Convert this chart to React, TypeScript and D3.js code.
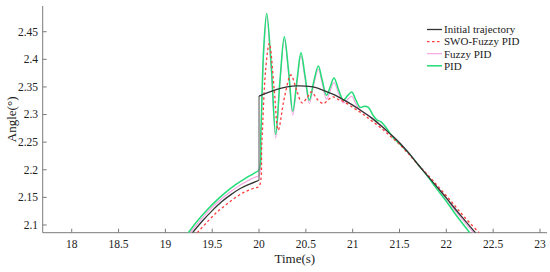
import React from "react";
import * as d3 from "d3";

const xTicks = [18, 18.5, 19, 19.5, 20, 20.5, 21, 21.5, 22, 22.5, 23];
const yTicks = [2.1, 2.15, 2.2, 2.25, 2.3, 2.35, 2.4, 2.45];

// Initial trajectory (before and after the step at t = 20)
const blackBefore: [number, number][] = [
  [19.29, 2.086], [19.4, 2.108], [19.5, 2.126], [19.6, 2.142], [19.7, 2.155],
  [19.8, 2.166], [19.9, 2.174], [20.0, 2.181],
];
const blackAfter: [number, number][] = [
  [20.0, 2.3335], [20.1, 2.34], [20.2, 2.346], [20.3, 2.35], [20.4, 2.352],
  [20.5, 2.3515], [20.6, 2.349], [20.7, 2.343], [20.8, 2.336], [20.9, 2.327],
  [21.0, 2.317], [21.1, 2.306], [21.2, 2.294], [21.3, 2.28], [21.4, 2.265],
  [21.5, 2.249], [21.6, 2.23], [21.7, 2.209], [21.8, 2.189], [21.9, 2.169],
  [22.0, 2.149], [22.1, 2.128], [22.2, 2.108], [22.31, 2.086],
];

const pid: [number, number][] = [
  [19.245, 2.086], [19.35, 2.109], [19.45, 2.128], [19.55, 2.145], [19.65, 2.16],
  [19.75, 2.173], [19.85, 2.184], [19.95, 2.194], [20.0, 2.2],
  [20.02, 2.27], [20.05, 2.42], [20.082, 2.483], [20.13, 2.39], [20.178, 2.264],
  [20.225, 2.365], [20.27, 2.441], [20.315, 2.38], [20.36, 2.306], [20.405, 2.362],
  [20.448, 2.412], [20.49, 2.372], [20.537, 2.326], [20.585, 2.36], [20.633, 2.388],
  [20.675, 2.362], [20.72, 2.335], [20.76, 2.35], [20.8, 2.366], [20.85, 2.345],
  [20.9, 2.326], [20.945, 2.334], [20.99, 2.341], [21.035, 2.326], [21.08, 2.313],
  [21.125, 2.315], [21.167, 2.313], [21.22, 2.298], [21.26, 2.29], [21.3, 2.287],
  [21.35, 2.278], [21.43, 2.259], [21.5, 2.247], [21.6, 2.23], [21.7, 2.209],
  [21.8, 2.188], [21.9, 2.165], [22.0, 2.143], [22.1, 2.119], [22.25, 2.086],
];

const fuzzyPid: [number, number][] = [
  [19.265, 2.086], [19.37, 2.108], [19.47, 2.127], [19.57, 2.143], [19.67, 2.157],
  [19.77, 2.169], [19.87, 2.179], [19.95, 2.186], [20.0, 2.19],
  [20.02, 2.26], [20.05, 2.41], [20.082, 2.478], [20.13, 2.38], [20.178, 2.257],
  [20.225, 2.36], [20.27, 2.436], [20.315, 2.375], [20.36, 2.299], [20.405, 2.356],
  [20.448, 2.406], [20.49, 2.366], [20.537, 2.32], [20.585, 2.354], [20.633, 2.382],
  [20.675, 2.356], [20.72, 2.328], [20.76, 2.343], [20.8, 2.358], [20.85, 2.338],
  [20.9, 2.321], [20.945, 2.327], [20.99, 2.333], [21.035, 2.319], [21.08, 2.308],
  [21.167, 2.299], [21.3, 2.281], [21.4, 2.265], [21.5, 2.249], [21.6, 2.23],
  [21.7, 2.209], [21.8, 2.189], [21.9, 2.168], [22.0, 2.147], [22.1, 2.125],
  [22.2, 2.104], [22.29, 2.086],
];

const swoFuzzyPid: [number, number][] = [
  [19.34, 2.086], [19.45, 2.106], [19.55, 2.123], [19.65, 2.137], [19.75, 2.15],
  [19.85, 2.16], [19.95, 2.167], [20.0, 2.17],
  [20.03, 2.25], [20.07, 2.38], [20.11, 2.429], [20.16, 2.35], [20.205, 2.272],
  [20.27, 2.33], [20.34, 2.3716], [20.4, 2.345], [20.46, 2.321], [20.51, 2.33],
  [20.56, 2.341], [20.625, 2.327], [20.69, 2.32], [20.74, 2.327], [20.79, 2.332],
  [20.85, 2.327], [20.9, 2.324], [21.0, 2.313], [21.1, 2.302], [21.2, 2.289],
  [21.3, 2.276], [21.4, 2.261], [21.5, 2.246], [21.6, 2.228], [21.7, 2.209],
  [21.8, 2.191], [21.9, 2.172], [22.0, 2.153], [22.1, 2.133], [22.2, 2.113],
  [22.35, 2.086],
];

const legendLabels = ["Initial trajectory", "SWO-Fuzzy PID", "Fuzzy PID", "PID"];

const W = 550;
const H = 272;
const left = 42.7;
const right = 547;
const top = 6;
const bottom = 232.7;

const COL_BLACK = "#333333";
const COL_RED = "#ff3b3b";
const COL_PINK = "#f59ee0";
const COL_GREEN = "#22dd77";
const AXIS = "#7a7a7a";
const FONT = "Liberation Serif, Times New Roman, serif";

export default function App() {
  const x = d3.scaleLinear().domain([17.69, 23.075]).range([left, right]);
  const y = d3.scaleLinear().domain([2.086, 2.4966]).range([bottom, top]);

  const line = d3
    .line<[number, number]>()
    .x((d) => x(d[0]))
    .y((d) => y(d[1]))
    .curve(d3.curveCatmullRom.alpha(0.5));
  const straight = d3
    .line<[number, number]>()
    .x((d) => x(d[0]))
    .y((d) => y(d[1]));

  const jump: [number, number][] = [
    blackBefore[blackBefore.length - 1],
    blackAfter[0],
  ];

  const legendStyles = [
    { color: COL_BLACK, dash: undefined, w: 1.3 },
    { color: COL_RED, dash: "2.5,2.5", w: 1.3 },
    { color: COL_PINK, dash: undefined, w: 1.1 },
    { color: COL_GREEN, dash: undefined, w: 1.5 },
  ];

  const txt = { fontFamily: FONT };

  return (
    <svg
      width={W}
      height={H}
      style={{ position: "absolute", left: 0, top: 0, background: "#fff", fontFamily: FONT }}
    >
      <defs>
        <clipPath id="plotclip">
          <rect x={left} y={top} width={right - left} height={bottom - top} />
        </clipPath>
      </defs>

      {/* axes */}
      <line x1={left} y1={top} x2={left} y2={bottom} stroke={AXIS} strokeWidth={1} />
      <line x1={left} y1={bottom} x2={right} y2={bottom} stroke={AXIS} strokeWidth={1} />
      {xTicks.map((t) => (
        <g key={"x" + t}>
          <line x1={x(t)} x2={x(t)} y1={bottom} y2={bottom - 4} stroke={AXIS} />
          <text x={x(t)} y={248} fontSize={11.5} textAnchor="middle" fill="#222" style={txt}>
            {String(t)}
          </text>
        </g>
      ))}
      {yTicks.map((t) => (
        <g key={"y" + t}>
          <line x1={left} x2={left + 4} y1={y(t)} y2={y(t)} stroke={AXIS} />
          <text x={38} y={y(t) + 3.8} fontSize={11.5} textAnchor="end" fill="#222" style={txt}>
            {String(t)}
          </text>
        </g>
      ))}
      <text x={(left + right) / 2} y={263} fontSize={13} textAnchor="middle" fill="#222" style={txt}>
        Time(s)
      </text>
      <text
        transform={`translate(16,${(top + bottom) / 2}) rotate(-90)`}
        fontSize={13}
        textAnchor="middle"
        fill="#222"
        style={txt}
      >
        Angle(°)
      </text>

      <g clipPath="url(#plotclip)" fill="none">
        <path d={line(fuzzyPid) || ""} stroke={COL_PINK} strokeWidth={1.1} />
        <path d={line(pid) || ""} stroke={COL_GREEN} strokeWidth={1.5} />
        <path d={line(swoFuzzyPid) || ""} stroke={COL_RED} strokeWidth={1.3} strokeDasharray="2.5,2.5" />
        <path d={line(blackBefore) || ""} stroke={COL_BLACK} strokeWidth={1.3} />
        <path d={straight(jump) || ""} stroke="#777" strokeWidth={1.3} />
        <path d={line(blackAfter) || ""} stroke={COL_BLACK} strokeWidth={1.3} />
      </g>

      {/* legend */}
      {legendLabels.map((lab, i) => {
        const cy = 29.5 + i * 12.1;
        const s = legendStyles[i];
        return (
          <g key={lab}>
            <line
              x1={427}
              x2={442}
              y1={cy}
              y2={cy}
              stroke={s.color}
              strokeWidth={s.w}
              strokeDasharray={s.dash}
            />
            <text x={444} y={cy + 3.8} fontSize={11} fill="#222" style={txt}>
              {lab}
            </text>
          </g>
        );
      })}
    </svg>
  );
}
